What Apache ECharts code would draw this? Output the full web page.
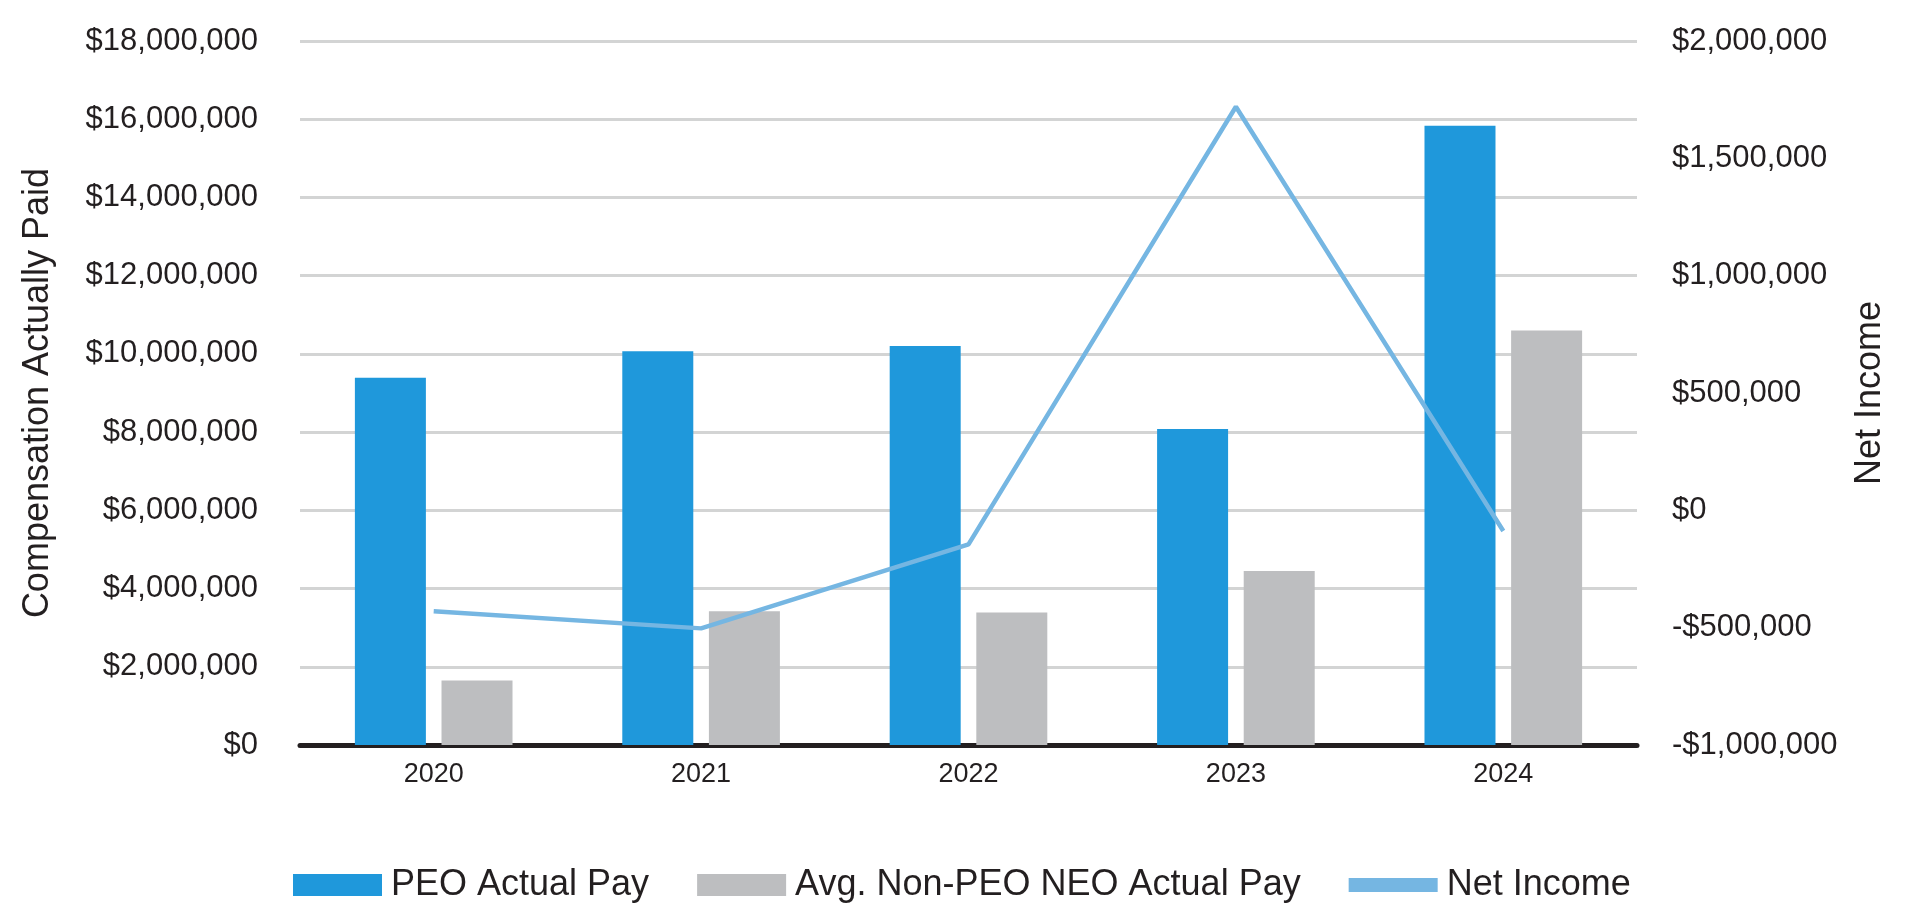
<!DOCTYPE html>
<html>
<head>
<meta charset="utf-8">
<script src="https://cdn.jsdelivr.net/npm/echarts@6/dist/echarts.min.js"></script>
<style>
  html, body { margin: 0; padding: 0; background: #ffffff; }
  #chart { width: 1905px; height: 923px; }
</style>
</head>
<body>
<div id="chart"></div>
<script>
const categories = ['2020', '2021', '2022', '2023', '2024'];
const peoActualPay = [9390000, 10070000, 10200000, 8080000, 15830000];
const avgNonPeoNeoActualPay = [1650000, 3420000, 3390000, 4450000, 10600000];
const netIncome = [-430000, -503000, -145000, 1720000, -88000];
const leftTicks = { min: 0, max: 18000000, interval: 2000000 };
const rightTicks = { min: -1000000, max: 2000000, interval: 500000 };

const FONT = '"Liberation Sans", Arial, Helvetica, sans-serif';
const TEXT = '#231f20';

function money(v) {
  const s = '$' + Math.abs(v).toLocaleString('en-US');
  return v < 0 ? '-' + s : s;
}

const chart = echarts.init(document.getElementById('chart'), null, { renderer: 'canvas' });
chart.setOption({
  backgroundColor: '#ffffff',
  animation: false,
  textStyle: { fontFamily: FONT, color: TEXT },
  grid: { left: 300, right: 268, top: 41, bottom: 178, containLabel: false },
  legend: {
    left: 288,
    top: 860,
    itemWidth: 89,
    itemHeight: 22,
    itemGap: 48,
    textStyle: { fontFamily: FONT, fontSize: 36, color: TEXT, lineHeight: 40, padding: [0, 0, 0, 4] },
    data: [
      { name: 'PEO Actual Pay', icon: 'rect' },
      { name: 'Avg. Non-PEO NEO Actual Pay', icon: 'rect' },
      { name: 'Net Income', icon: 'path://M0,0 L89,0 L89,14 L0,14 Z', itemStyle: { color: '#75b6e2' } }
    ]
  },
  xAxis: {
    type: 'category',
    data: categories,
    axisLine: { show: true, lineStyle: { color: '#231f20', width: 5 } },
    axisTick: { show: false },
    axisLabel: { fontFamily: FONT, fontSize: 27, color: TEXT, margin: 16 }
  },
  yAxis: [
    {
      type: 'value',
      min: leftTicks.min, max: leftTicks.max, interval: leftTicks.interval,
      name: 'Compensation Actually Paid',
      nameLocation: 'middle',
      nameGap: 244,
      nameRotate: 90,
      nameTextStyle: { fontFamily: FONT, fontSize: 36, color: TEXT },
      axisLine: { show: false },
      axisTick: { show: false },
      axisLabel: { fontFamily: FONT, fontSize: 31, color: TEXT, margin: 42, formatter: money },
      splitLine: { show: true, lineStyle: { color: '#d3d4d4', width: 3 } }
    },
    {
      type: 'value',
      position: 'right',
      min: rightTicks.min, max: rightTicks.max, interval: rightTicks.interval,
      name: 'Net Income',
      nameLocation: 'middle',
      nameGap: 215,
      nameRotate: 90,
      nameTextStyle: { fontFamily: FONT, fontSize: 36, color: TEXT },
      axisLine: { show: false },
      axisTick: { show: false },
      axisLabel: { fontFamily: FONT, fontSize: 31, color: TEXT, margin: 35, formatter: money },
      splitLine: { show: false }
    }
  ],
  series: [
    {
      name: 'PEO Actual Pay',
      type: 'bar',
      data: peoActualPay,
      barWidth: 71,
      barGap: '22%',
      itemStyle: { color: '#1f98db' }
    },
    {
      name: 'Avg. Non-PEO NEO Actual Pay',
      type: 'bar',
      data: avgNonPeoNeoActualPay,
      barWidth: 71,
      barGap: '22%',
      itemStyle: { color: '#bdbec0' }
    },
    {
      name: 'Net Income',
      type: 'line',
      yAxisIndex: 1,
      data: netIncome,
      symbol: 'none',
      lineStyle: { color: '#75b6e2', width: 4.5 },
      itemStyle: { color: '#75b6e2' },
      z: 5
    }
  ]
});
</script>
</body>
</html>
